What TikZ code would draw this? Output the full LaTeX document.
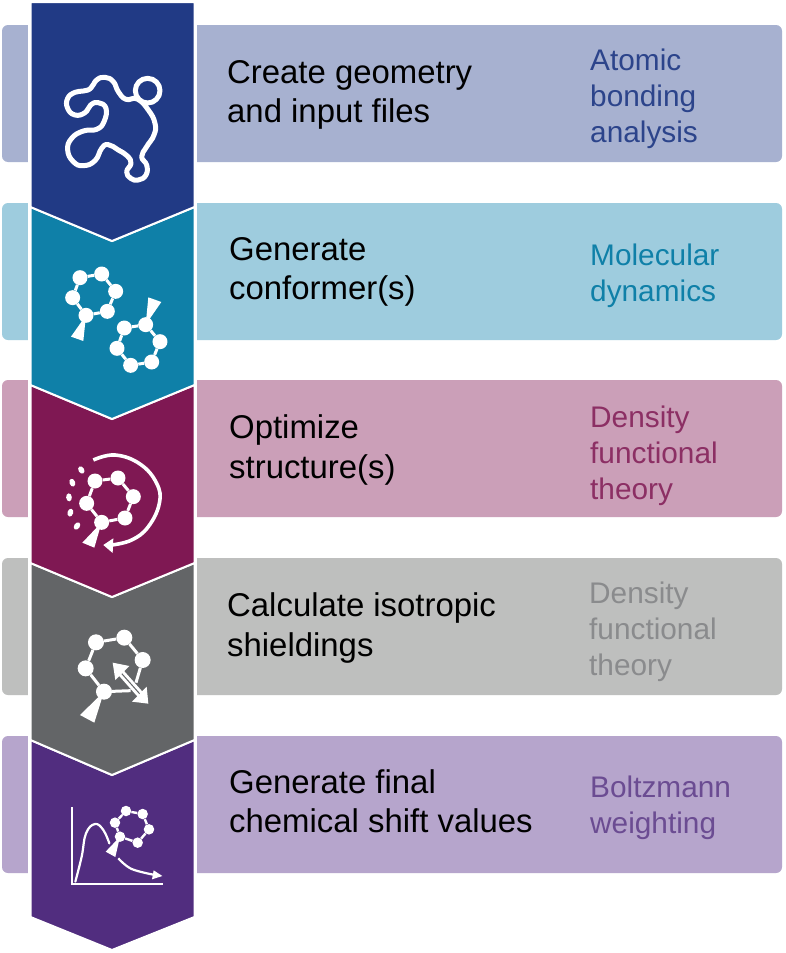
\documentclass[tikz,border=0pt]{standalone}
\usepackage{fontspec}
\setmainfont{Liberation Sans}
\definecolor{cblue}{HTML}{213A85}
\definecolor{cteal}{HTML}{0F80A8}
\definecolor{cmaroon}{HTML}{7F1853}
\definecolor{cgrey}{HTML}{636567}
\definecolor{cpurple}{HTML}{512D7F}
\definecolor{bblue}{HTML}{A7B1D0}
\definecolor{bteal}{HTML}{9ECCDE}
\definecolor{bmaroon}{HTML}{CB9FB8}
\definecolor{bgrey}{HTML}{BEBFBE}
\definecolor{bpurple}{HTML}{B6A5CC}
\tikzset{
  main/.style={anchor=west,align=left,inner sep=0pt,text=black,font=\fontsize{32.9}{39.2}\selectfont},
  side/.style={anchor=west,align=left,inner sep=0pt,font=\fontsize{29.8}{36.2}\selectfont},
  chev/.style={draw=white,line width=2pt,line join=miter},
  atom/.style={circle,fill=white,draw=none,inner sep=0pt,minimum size=#1},
  atom/.default=15pt,
  bond/.style={draw=white,line width=3pt},
  wedge/.style={fill=white,draw=none},
  icon/.style={draw=white,line cap=round,line join=round},
  zoomed/.style={x=0.33333pt,y=-0.33333pt}
}
\newcommand{\bandrow}[3]{%
  \fill[#3,rounded corners=6pt] (2,#1) rectangle (40,#2);
  \fill[#3,rounded corners=6pt] (180,#1) rectangle (782,#2);
}
\newcommand{\ringbonds}[1]{%
  \draw[bond] (#11)--(#12)--(#13)--(#14)--(#15)--(#16)--(#11);
}
\begin{document}
\begin{tikzpicture}[x=1pt,y=-1pt]
\useasboundingbox (0,0) rectangle (785,953);
\fill[white] (0,0) rectangle (785,953);
% bands
\bandrow{25}{162}{bblue}
\bandrow{203}{340}{bteal}
\bandrow{380}{517}{bmaroon}
\bandrow{558}{695}{bgrey}
\bandrow{736}{873}{bpurple}
\fill[white] (28,0) rectangle (197,953);
% chevrons, from the bottom up
\path[chev,fill=cpurple] (30.5,740) -- (112,775) -- (194.5,740) -- (194.5,917) -- (112,950) -- (30.5,917) -- cycle;
\path[chev,fill=cgrey] (30.5,563) -- (112,597) -- (194.5,563) -- (194.5,740) -- (112,775) -- (30.5,740) -- cycle;
\path[chev,fill=cmaroon] (30.5,385) -- (112,419) -- (194.5,385) -- (194.5,563) -- (112,597) -- (30.5,563) -- cycle;
\path[chev,fill=cteal] (30.5,207) -- (112,241) -- (194.5,207) -- (194.5,385) -- (112,419) -- (30.5,385) -- cycle;
\path[chev,fill=cblue] (30.5,2) -- (194.5,2) -- (194.5,207) -- (112,241) -- (30.5,207) -- cycle;
% left texts
\node[main] (t1) at (227,95) {Create geometry\\and input files};
\node[main] (t2) at (229,272) {Generate\\conformer(s)};
\node[main] (t3) at (229,450) {Optimize\\structure(s)};
\node[main] (t4) at (227,628) {Calculate isotropic\\shieldings};
\node[main] (t5) at (229,801) {Generate final\\chemical shift values};
% right texts
\node[side,text=cblue!95!white] (s1) at (590,99) {Atomic\\bonding\\analysis};
\node[side,text=cteal] (s2) at (590,276) {Molecular\\dynamics};
\node[side,text=cmaroon!90!white] (s3) at (590,456) {Density\\functional\\theory};
\node[side,text=cgrey!75!white] (s4) at (589,632) {Density\\functional\\theory};
\node[side,text=cpurple!85!white] (s5) at (590,808) {Boltzmann\\weighting};
% icon 1
\begin{scope}[zoomed]
\draw[icon,line width=5pt] (443,272) circle[radius=37];
\draw[icon,line width=5pt] plot[smooth cycle,tension=0.8] coordinates {
 (412,297) (378,298) (355,275) (340,245) (315,232) (290,240) (272,265) (250,273) (225,277) (203,295) (203,325) (225,345)
 (255,338) (272,315) (295,308) (318,325) (312,365) (290,388) (250,393) (215,415) (203,450) (220,485) (250,497) (285,482)
 (305,445) (325,434) (355,450) (382,468) (393,490) (380,515) (392,535) (415,540) (438,525) (440,495) (425,470) (440,440) (462,405) (465,370) (445,330)};
\end{scope}
% icon 2
\begin{scope}[shift={(0,190)},zoomed]
\foreach \i/\x/\y in {1/240/263,2/305/252,3/347/304,4/322/364,5/258/376,6/218/323} \node[atom] (a\i) at (\x,\y) {};
\ringbonds{a}
\fill[wedge] (a5.center) -- (213,440) -- (250,453) -- cycle;
\foreach \i/\x/\y in {1/373/414,2/437/404,3/480/455,4/455/516,5/392/526,6/351/475} \node[atom] (b\i) at (\x,\y) {};
\ringbonds{b}
\fill[wedge] (b2.center) -- (445,322) -- (484,336) -- cycle;
\end{scope}
% icon 3
\begin{scope}[shift={(0,370)},zoomed]
\foreach \i/\x/\y in {1/285/333,2/354/324,3/400/380,4/375/444,5/305/457,6/260/400} \node[atom] (c\i) at (\x,\y) {};
\ringbonds{c}
\fill[wedge] (c5.center) -- (247,518) -- (283,533) -- cycle;
\draw[icon,line width=3.6pt,line cap=butt] plot[smooth,tension=0.7] coordinates {(280,270) (345,255) (420,282) (470,340) (478,400) (445,470) (395,510) (335,525)};
\fill[wedge] (310,525) -- (340,505) -- (338,549) -- cycle;
\foreach \x/\y/\a in {244/300/-60,217/338/-70,207/382/-85,211/428/75,231/468/55}
  \fill[white,rotate around={\a:(\x,\y)}] (\x,\y) ellipse[x radius=12,y radius=8.5];
\end{scope}
% icon 4
\begin{scope}[shift={(0,560)},zoomed]
\foreach \i/\x/\y in {1/288/247,2/373/233,3/428/300,5/312/395,6/257/325} \node[atom=16pt] (d\i) at (\x,\y) {};
\coordinate (de1) at (408,368);
\coordinate (de2) at (392,392);
\draw[bond] (d5)--(d6)--(d1)--(d2)--(d3)--(de1);
\draw[bond] (d5)--(de2);
\fill[wedge] (d5.center) -- (240,465) -- (283,488) -- cycle;
\coordinate (ua) at (360,335);
\coordinate (ub) at (425,408);
\draw[white,line width=7pt] (ua) -- (ub);
\draw[cgrey,line width=1pt] (ua) -- (ub);
\fill[wedge] (338,308) -- (388,318) -- (346,360) -- cycle;
\fill[wedge] (445,431) -- (396,425) -- (440,380) -- cycle;
\end{scope}
% icon 5
\begin{scope}[shift={(0,730)},zoomed]
\coordinate (o) at (217,462);
\draw[white,line width=2.2pt] (217,232) -- (o) -- (490,462);
\draw[icon,line width=2.2pt] plot[smooth,tension=0.7] coordinates {(226,455) (245,380) (258,310) (285,282) (310,300) (328,340)};
\foreach \i/\x/\y in {1/378/243,2/428/252,3/447/298,4/413/338,5/360/320,6/345/278} \node[atom=10.5pt] (e\i) at (\x,\y) {};
\draw[draw=white,line width=2.4pt] (e1)--(e2)--(e3)--(e4)--(e5)--(e6)--(e1);
\fill[wedge] (e5.center) -- (317,365) -- (346,381) -- cycle;
\draw[icon,line width=2.2pt,line cap=butt] plot[smooth,tension=0.6] coordinates {(355,385) (395,417) (470,436)};
\fill[wedge] (487,438) -- (456,448) -- (461,421) -- cycle;
\end{scope}
\end{tikzpicture}
\end{document}
